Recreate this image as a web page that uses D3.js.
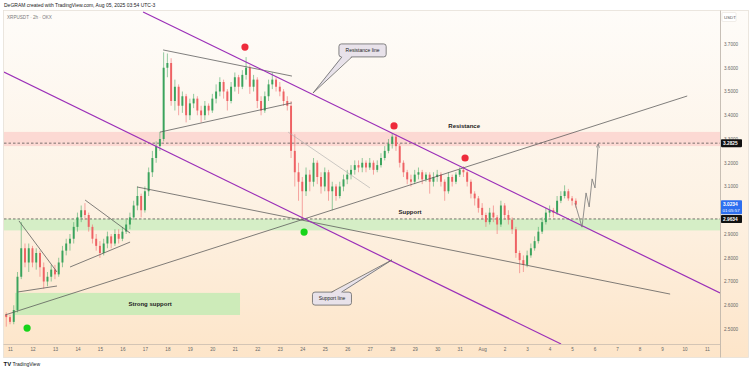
<!DOCTYPE html>
<html>
<head>
<meta charset="utf-8">
<script src="https://cdn.jsdelivr.net/npm/d3@7"></script>
<style>
  body { margin: 0; background: #fff; font-family: "Liberation Sans", Arial, sans-serif; }
  svg { display: block; }
</style>
</head>
<body>
<script>
// ---- data ----
var headerText = "DeGRAM created with TradingView.com, Aug 05, 2025 03:54 UTC-3";
var symbolTitle = "XRPUSDT \u00b7 2h \u00b7 OKX";

// candles: one every 4 hours starting Jul 10 20:00
var firstCandle = Date.UTC(2025, 6, 10, 20);
var candleHours = 4;
var firstOpen = 2.56;
var closes = [
  2.55, 2.53, 2.58, 2.72, 2.84, 2.78, 2.84, 2.78, 2.82, 2.76,
  2.70, 2.72, 2.75, 2.73, 2.78, 2.83, 2.86, 2.88, 2.93, 2.97,
  3.00, 2.98, 2.93, 2.88, 2.85, 2.82, 2.86, 2.89, 2.86, 2.90,
  2.88, 2.91, 2.94, 2.97, 3.02, 3.06, 3.00, 3.08, 3.16, 3.22,
  3.27, 3.30, 3.60, 3.62, 3.46, 3.52, 3.44, 3.48, 3.40, 3.45,
  3.47, 3.42, 3.40, 3.44, 3.42, 3.47, 3.50, 3.54, 3.50, 3.46,
  3.52, 3.56, 3.52, 3.57, 3.60, 3.52, 3.55, 3.46, 3.42, 3.48,
  3.53, 3.55, 3.52, 3.50, 3.46, 3.44, 3.25, 3.16, 3.12, 3.08,
  3.15, 3.12, 3.20, 3.14, 3.10, 3.16, 3.08, 3.10, 3.06, 3.10,
  3.13, 3.15, 3.17, 3.19, 3.18, 3.20, 3.18, 3.20, 3.17, 3.19,
  3.22, 3.25, 3.28, 3.31, 3.27, 3.20, 3.16, 3.13, 3.12, 3.15,
  3.16, 3.13, 3.15, 3.12, 3.14, 3.15, 3.12, 3.08, 3.14, 3.12,
  3.15, 3.17, 3.16, 3.12, 3.07, 3.05, 3.01, 2.98, 2.95, 2.99,
  2.97, 2.94, 3.02, 2.98, 2.96, 2.92, 2.82, 2.79, 2.77, 2.81,
  2.84, 2.87, 2.91, 2.95, 2.99, 3.00, 2.99, 3.04, 3.06, 3.08,
  3.05, 3.04, 3.0234
];
var highs = [
  2.57, 2.56, 2.60, 2.74, 2.95, 2.86, 2.86, 2.85, 2.84, 2.83,
  2.78, 2.74, 2.77, 2.77, 2.80, 2.85, 2.88, 2.90, 2.95, 2.99,
  3.02, 3.03, 2.99, 2.94, 2.90, 2.87, 2.88, 2.91, 2.90, 2.92,
  2.92, 2.93, 2.96, 2.99, 3.04, 3.10, 3.07, 3.10, 3.18, 3.25,
  3.29, 3.33, 3.665, 3.66, 3.64, 3.55, 3.53, 3.50, 3.49, 3.47,
  3.49, 3.48, 3.44, 3.46, 3.45, 3.49, 3.53, 3.56, 3.55, 3.51,
  3.54, 3.58, 3.57, 3.59, 3.645, 3.61, 3.57, 3.56, 3.48, 3.50,
  3.55, 3.58, 3.56, 3.54, 3.51, 3.48, 3.46, 3.32, 3.20, 3.14,
  3.18, 3.17, 3.22, 3.21, 3.16, 3.18, 3.17, 3.12, 3.11, 3.12,
  3.15, 3.17, 3.19, 3.21, 3.21, 3.22, 3.21, 3.22, 3.21, 3.21,
  3.24, 3.27, 3.30, 3.325, 3.32, 3.28, 3.21, 3.17, 3.15, 3.17,
  3.18, 3.17, 3.16, 3.16, 3.16, 3.17, 3.16, 3.13, 3.16, 3.15,
  3.16, 3.18, 3.185, 3.17, 3.13, 3.08, 3.06, 3.03, 2.99, 3.01,
  3.02, 2.98, 3.04, 3.03, 3.00, 2.97, 2.93, 2.83, 2.81, 2.83,
  2.86, 2.89, 2.93, 2.97, 3.01, 3.02, 3.01, 3.06, 3.08, 3.105,
  3.09, 3.06, 3.05
];
var lows = [
  2.51, 2.52, 2.52, 2.57, 2.71, 2.76, 2.74, 2.76, 2.75, 2.72,
  2.67, 2.68, 2.70, 2.71, 2.72, 2.76, 2.81, 2.83, 2.86, 2.91,
  2.95, 2.96, 2.91, 2.86, 2.83, 2.80, 2.81, 2.84, 2.84, 2.85,
  2.86, 2.87, 2.90, 2.92, 2.96, 3.00, 2.97, 2.99, 3.06, 3.14,
  3.20, 3.25, 3.29, 3.56, 3.44, 3.42, 3.40, 3.41, 3.37, 3.38,
  3.43, 3.40, 3.37, 3.38, 3.40, 3.41, 3.45, 3.48, 3.47, 3.42,
  3.45, 3.50, 3.49, 3.51, 3.55, 3.49, 3.50, 3.43, 3.40, 3.41,
  3.46, 3.51, 3.50, 3.48, 3.44, 3.42, 3.22, 3.10, 3.04, 2.965,
  3.06, 3.08, 3.10, 3.11, 3.07, 3.08, 3.04, 3.00, 3.04, 3.05,
  3.08, 3.11, 3.13, 3.15, 3.16, 3.16, 3.16, 3.17, 3.15, 3.16,
  3.18, 3.21, 3.24, 3.26, 3.25, 3.18, 3.14, 3.11, 3.10, 3.11,
  3.13, 3.11, 3.12, 3.07, 3.10, 3.12, 3.10, 3.04, 3.07, 3.10,
  3.11, 3.14, 3.14, 3.10, 3.05, 3.02, 2.99, 2.96, 2.93, 2.94,
  2.95, 2.90, 2.93, 2.96, 2.94, 2.90, 2.80, 2.735, 2.74, 2.76,
  2.80, 2.83, 2.86, 2.90, 2.94, 2.97, 2.97, 2.98, 3.03, 3.05,
  3.04, 3.02, 3.01
];

// axis labels
var priceTicks = [2.5, 2.6, 2.7, 2.8, 2.9, 3.0, 3.1, 3.2, 3.3, 3.4, 3.5, 3.6, 3.7];
var dayLabels = ["11", "12", "13", "14", "15", "16", "17", "18", "19", "20",
  "21", "22", "23", "24", "25", "26", "27", "28", "29", "30", "31",
  "Aug", "2", "3", "4", "5", "6", "7", "8", "9", "10", "11"];

// drawings, as [days after Jul 11 00:00, price]
var resistanceChannel = [[5.92, 3.835], [31.58, 2.652]];
var supportChannel = [[-0.27, 3.582], [24.51, 2.437]];
var risingTrend = [[-0.22, 2.559], [30.12, 3.481]];
var fallingTrend = [[5.65, 3.098], [29.36, 2.647]];
var wedgeLines = [
  [[6.81, 3.675], [12.54, 3.565]],
  [[6.67, 3.329], [12.54, 3.452]],
  [[0.40, 2.955], [2.09, 2.740]],
  [[0.36, 2.656], [2.09, 2.681]],
  [[3.34, 3.043], [5.34, 2.904]],
  [[2.67, 2.761], [5.34, 2.866]]
];
var fadedLine = [[12.37, 3.329], [16.01, 3.094]];
var projection = [[25.13, 3.03], [25.44, 2.929], [25.62, 3.073], [25.76, 3.014],
  [25.89, 3.132], [26.02, 3.094], [26.16, 3.279]];
var peakDots = [[10.45, 3.687], [17.08, 3.355], [20.24, 3.22]];
var troughDots = [[13.08, 2.908], [0.76, 2.504]];

var resistanceZone = [3.33, 3.27];
var supportZone = [2.9634, 2.915];
var strongSupportDays = [0.22, 10.23];
var strongSupportPrices = [2.652, 2.559];

var levels = [3.2825, 2.9634];
var lastPrice = 3.0234;
var countdown = "01:05:57";

var zoneLabels = [
  ["Resistance", 20.2, 3.355],
  ["Support", 17.79, 2.993],
  ["Strong support", 6.23, 2.605]
];
// callout: text, box centre, tip, side of pointer
var callouts = [
  ["Resistance line", [15.68, 3.673], [13.48, 3.494], "bottom"],
  ["Support line", [14.32, 2.628], [16.99, 2.791], "top"]
];

// ---- layout ----
var W = 752, H = 371;
var plot = {left: 4, right: 720, top: 10, bottom: 344};
var day0 = Date.UTC(2025, 6, 11);

var x = d3.scaleUtc()
  .domain([new Date(day0), new Date(Date.UTC(2025, 7, 11))])
  .range([10, 707]);
var y = d3.scaleLinear().domain([2.5, 3.7]).range([329, 44]);

function dayX(d) { return x(new Date(day0 + d * 864e5)); }
function pt(p) { return [dayX(p[0]), y(p[1])]; }

var svg = d3.select("body").append("svg")
  .attr("width", W).attr("height", H);

var defs = svg.append("defs");
var grad = defs.append("linearGradient").attr("id", "bg")
  .attr("x1", 0).attr("y1", 0).attr("x2", 0).attr("y2", 1);
grad.append("stop").attr("offset", "0%").attr("stop-color", "#fefcf9");
grad.append("stop").attr("offset", "55%").attr("stop-color", "#fdf2e4");
grad.append("stop").attr("offset", "100%").attr("stop-color", "#fde5c9");

defs.append("clipPath").attr("id", "clip").append("rect")
  .attr("x", plot.left).attr("y", plot.top)
  .attr("width", plot.right - plot.left).attr("height", plot.bottom - plot.top);

defs.append("marker").attr("id", "arrow")
  .attr("viewBox", "0 0 10 10").attr("refX", 9).attr("refY", 5)
  .attr("markerWidth", 6).attr("markerHeight", 6).attr("orient", "auto")
  .append("path").attr("d", "M1,1 L9,5 L1,9").attr("fill", "none")
  .attr("stroke", "#777").attr("stroke-width", 1.2);

// header
svg.append("text").attr("x", 4).attr("y", 7)
  .attr("font-size", 5).attr("fill", "#222").text(headerText);

// chart background
svg.append("rect").attr("x", 3.5).attr("y", 10.5)
  .attr("width", 745).attr("height", 347)
  .attr("fill", "url(#bg)").attr("stroke", "#e6e0d8").attr("stroke-width", 0.8);

svg.append("text").attr("x", 7).attr("y", 18.5)
  .attr("font-size", 4.6).attr("fill", "#7a7a7a").text(symbolTitle);

var g = svg.append("g").attr("clip-path", "url(#clip)");

// zones
g.append("rect").attr("x", plot.left).attr("width", plot.right - plot.left)
  .attr("y", y(resistanceZone[0])).attr("height", y(resistanceZone[1]) - y(resistanceZone[0]))
  .attr("fill", "#fbd3cf").attr("opacity", 0.85);
g.append("rect").attr("x", plot.left).attr("width", plot.right - plot.left)
  .attr("y", y(supportZone[0])).attr("height", y(supportZone[1]) - y(supportZone[0]))
  .attr("fill", "#d3edc4").attr("opacity", 0.95);
g.append("rect").attr("x", dayX(strongSupportDays[0]))
  .attr("width", dayX(strongSupportDays[1]) - dayX(strongSupportDays[0]))
  .attr("y", y(strongSupportPrices[0]))
  .attr("height", y(strongSupportPrices[1]) - y(strongSupportPrices[0]))
  .attr("fill", "#cdebb9");

// dashed levels
levels.forEach(function(v) {
  g.append("line").attr("x1", plot.left).attr("x2", plot.right)
    .attr("y1", y(v)).attr("y2", y(v))
    .attr("stroke", "#444").attr("stroke-width", 0.7).attr("stroke-dasharray", "2.5,2");
});

// candles
var line = d3.line();
var slot = dayX(candleHours / 24) - dayX(0);
var candles = closes.map(function(c, i) {
  var o = i === 0 ? firstOpen : closes[i - 1];
  return {
    t: firstCandle + i * candleHours * 36e5, o: o, c: c,
    h: Math.max(highs[i], o, c), l: Math.min(lows[i], o, c)
  };
});
var cg = g.selectAll(".candle").data(candles).enter().append("g")
  .attr("class", "candle")
  .attr("fill", function(d) { return d.c >= d.o ? "#3aa35c" : "#ee6264"; })
  .attr("stroke", function(d) { return d.c >= d.o ? "#3aa35c" : "#ee6264"; });
cg.append("line")
  .attr("x1", function(d) { return x(new Date(d.t)); })
  .attr("x2", function(d) { return x(new Date(d.t)); })
  .attr("y1", function(d) { return y(d.h); })
  .attr("y2", function(d) { return y(d.l); })
  .attr("stroke-width", 0.55);
cg.append("rect")
  .attr("x", function(d) { return x(new Date(d.t)) - slot * 0.26; })
  .attr("width", slot * 0.52)
  .attr("y", function(d) { return y(Math.max(d.o, d.c)); })
  .attr("height", function(d) { return Math.max(0.6, Math.abs(y(d.o) - y(d.c))); })
  .attr("stroke", "none");

// trend lines
[risingTrend, fallingTrend].concat(wedgeLines).forEach(function(l) {
  g.append("path").attr("d", line(l.map(pt)))
    .attr("stroke", "#555").attr("stroke-width", 0.75).attr("fill", "none");
});
g.append("path").attr("d", line(fadedLine.map(pt)))
  .attr("stroke", "#aaa").attr("stroke-width", 0.6).attr("fill", "none");
[resistanceChannel, supportChannel].forEach(function(l) {
  g.append("path").attr("d", line(l.map(pt)))
    .attr("stroke", "#9b2fb8").attr("stroke-width", 1.2).attr("fill", "none");
});

// projected path
g.append("path").attr("d", line(projection.map(pt)))
  .attr("stroke", "#777").attr("stroke-width", 0.8).attr("fill", "none")
  .attr("marker-end", "url(#arrow)");

// dots
g.selectAll(".peak").data(peakDots).enter().append("circle")
  .attr("cx", function(d) { return dayX(d[0]); }).attr("cy", function(d) { return y(d[1]); })
  .attr("r", 3.6).attr("fill", "#ee2b3b");
g.selectAll(".trough").data(troughDots).enter().append("circle")
  .attr("cx", function(d) { return dayX(d[0]); }).attr("cy", function(d) { return y(d[1]); })
  .attr("r", 3.6).attr("fill", "#17d41a");

// zone labels
zoneLabels.forEach(function(z) {
  g.append("text").attr("x", dayX(z[1])).attr("y", y(z[2]) + 2)
    .attr("text-anchor", "middle").attr("font-size", 6).attr("font-weight", "bold")
    .attr("fill", "#222").text(z[0]);
});

// callouts
callouts.forEach(function(c) {
  var cx = dayX(c[1][0]), cy = y(c[1][1]);
  var tx = dayX(c[2][0]), ty = y(c[2][1]);
  var bw = c[0].length * 2.75 + 6, bh = 13;
  var bx = cx - bw / 2, by = cy - bh / 2;
  var baseY = c[3] === "bottom" ? by + bh - 0.8 : by + 0.8;
  var b1 = c[3] === "bottom" ? bx + 3 : bx + bw - 20;
  var b2 = b1 + 10;
  g.append("rect").attr("x", bx).attr("y", by).attr("width", bw).attr("height", bh)
    .attr("rx", 2.5).attr("fill", "#e8e2ea").attr("stroke", "#666").attr("stroke-width", 0.8);
  g.append("path").attr("d", line([[b1, baseY], [tx, ty], [b2, baseY]]) + "Z")
    .attr("fill", "#e8e2ea").attr("stroke", "none");
  g.append("path").attr("d", line([[b1, baseY + (c[3] === "bottom" ? 0.8 : -0.8)], [tx, ty],
      [b2, baseY + (c[3] === "bottom" ? 0.8 : -0.8)]]))
    .attr("fill", "none").attr("stroke", "#666").attr("stroke-width", 0.8);
  g.append("text").attr("x", cx).attr("y", cy + 1.8).attr("text-anchor", "middle")
    .attr("font-size", 5).attr("fill", "#222").text(c[0]);
});

// axes
svg.append("line").attr("x1", plot.right + 0.5).attr("x2", plot.right + 0.5)
  .attr("y1", 10.5).attr("y2", 357.5).attr("stroke", "#b9b0a6").attr("stroke-width", 0.8);
svg.append("line").attr("x1", 3.5).attr("x2", plot.right)
  .attr("y1", plot.bottom + 0.5).attr("y2", plot.bottom + 0.5)
  .attr("stroke", "#c9bcae").attr("stroke-width", 0.8);

var dayDates = dayLabels.map(function(s, i) { return new Date(day0 + i * 864e5); });
var xAxis = svg.append("g").attr("transform", "translate(0," + plot.bottom + ")")
  .call(d3.axisBottom(x).tickValues(dayDates)
    .tickFormat(function(d, i) { return dayLabels[i]; })
    .tickSize(0).tickPadding(4));
xAxis.select(".domain").remove();
xAxis.selectAll("text").attr("font-size", 4.6).attr("fill", "#666")
  .attr("font-family", "Liberation Sans, Arial, sans-serif");

var yAxis = svg.append("g").attr("transform", "translate(" + plot.right + ",0)")
  .call(d3.axisRight(y).tickValues(priceTicks).tickFormat(d3.format(".4f"))
    .tickSize(0).tickPadding(4));
yAxis.select(".domain").remove();
yAxis.selectAll("text").attr("font-size", 4.6).attr("fill", "#666")
  .attr("font-family", "Liberation Sans, Arial, sans-serif");

// currency label
svg.append("rect").attr("x", 722).attr("y", 12.5).attr("width", 14).attr("height", 9)
  .attr("fill", "#fff").attr("stroke", "#e3ddd5").attr("stroke-width", 0.5).attr("rx", 1);
svg.append("text").attr("x", 724).attr("y", 18.6).attr("font-size", 4.4)
  .attr("fill", "#555").text("USDT");

// price level tags
levels.forEach(function(v) {
  svg.append("rect").attr("x", 721).attr("y", y(v) - 4).attr("width", 21).attr("height", 8)
    .attr("fill", "#111").attr("rx", 0.8);
  svg.append("text").attr("x", 723).attr("y", y(v) + 1.8).attr("font-size", 4.8)
    .attr("font-weight", "bold").attr("fill", "#fff").text(d3.format(".4f")(v));
});
svg.append("rect").attr("x", 721).attr("y", y(lastPrice) - 4.5).attr("width", 21).attr("height", 14)
  .attr("fill", "#2d6ff0").attr("rx", 0.8);
svg.append("text").attr("x", 723).attr("y", y(lastPrice) + 1.6).attr("font-size", 4.8)
  .attr("font-weight", "bold").attr("fill", "#fff").text(d3.format(".4f")(lastPrice));
svg.append("text").attr("x", 722.5).attr("y", y(lastPrice) + 7.6).attr("font-size", 4.4)
  .attr("fill", "#fff").text(countdown);

// footer logo
svg.append("text").attr("x", 3.5).attr("y", 366).attr("font-size", 6)
  .attr("font-weight", "bold").attr("fill", "#131722").text("TV");
svg.append("text").attr("x", 12.5).attr("y", 365.8).attr("font-size", 5)
  .attr("fill", "#131722").text("TradingView");
</script>
</body>
</html>
